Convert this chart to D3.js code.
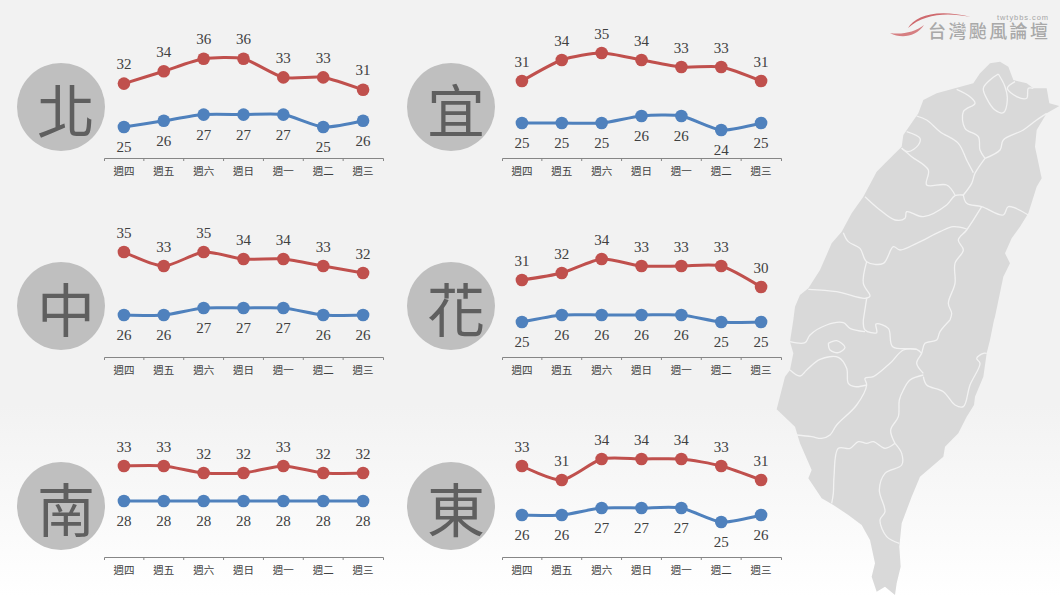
<!DOCTYPE html>
<html>
<head>
<meta charset="utf-8">
<script src="https://cdn.jsdelivr.net/npm/d3@7"></script>
<style>
  html, body { margin: 0; padding: 0; background: #fff; }
  svg { display: block; }
  .val { font-family: "Liberation Serif", serif; font-size: 15px; fill: #404040; text-anchor: middle; }
  .axis text { font-family: "Noto Sans CJK TC", sans-serif; font-size: 10.5px; fill: #404040; }
  .axis path, .axis line { stroke: #868686; stroke-width: 1; }
</style>
</head>
<body>
<svg id="chart" width="1060" height="596"></svg>
<script>
// Values
const days = ["週四", "週五", "週六", "週日", "週一", "週二", "週三"];
const northHigh = [32, 34, 36, 36, 33, 33, 31];
const northLow = [25, 26, 27, 27, 27, 25, 26];
const yilanHigh = [31, 34, 35, 34, 33, 33, 31];
const yilanLow = [25, 25, 25, 26, 26, 24, 25];
const centralHigh = [35, 33, 35, 34, 34, 33, 32];
const centralLow = [26, 26, 27, 27, 27, 26, 26];
const hualienHigh = [31, 32, 34, 33, 33, 33, 30];
const hualienLow = [25, 26, 26, 26, 26, 25, 25];
const southHigh = [33, 33, 32, 32, 33, 32, 32];
const southLow = [28, 28, 28, 28, 28, 28, 28];
const eastHigh = [33, 31, 34, 34, 34, 33, 31];
const eastLow = [26, 26, 27, 27, 27, 25, 26];

const RED = "#c0504d";
const BLUE = "#4f81bd";

const panels = [
  { name: "北", high: northHigh, low: northLow, left: 104, badgeX: 61, axisY: 158, perDeg: 6.2 },
  { name: "宜", high: yilanHigh, low: yilanLow, left: 502, badgeX: 451, axisY: 158, perDeg: 7 },
  { name: "中", high: centralHigh, low: centralLow, left: 104, badgeX: 61, axisY: 357, perDeg: 7 },
  { name: "花", high: hualienHigh, low: hualienLow, left: 502, badgeX: 451, axisY: 357, perDeg: 7 },
  { name: "南", high: southHigh, low: southLow, left: 104, badgeX: 61, axisY: 557, perDeg: 7 },
  { name: "東", high: eastHigh, low: eastLow, left: 502, badgeX: 451, axisY: 557, perDeg: 7 },
];

const svg = d3.select("#chart");
const defs = svg.append("defs");

const bg = defs.append("linearGradient").attr("id", "bg").attr("x2", 0).attr("y2", 1);
bg.append("stop").attr("offset", "68%").attr("stop-color", "#f2f2f2");
bg.append("stop").attr("offset", "100%").attr("stop-color", "#ffffff");
svg.append("rect").attr("width", 1060).attr("height", 596).attr("fill", "url(#bg)");

const crop3 = ([x, y]) => [770 + x / 3, 50 + y / 3];
const crop4 = ([x, y]) => [770 + x / 3, 320 + y / 3];

const outline = [
  ...[[660,40],[690,35],[715,50],[730,90],[770,100],[790,115],[830,115],[838,160],[868,168],[830,190],[800,240],[795,290],[815,385],[800,410],[775,490],[750,530],[725,565],[705,610],[720,640],[700,680],[675,800]].map(crop3),
  ...[[672,0],[660,60],[650,100],[640,170],[615,230],[612,255],[590,290],[565,340],[525,380],[520,410],[450,470],[425,530],[395,610],[388,680],[392,740],[380,790],[375,825],[345,800],[320,815],[305,770],[315,730],[300,660],[275,615],[235,585],[190,555],[155,535],[115,475],[125,450],[90,370],[75,320],[20,268],[45,170],[60,150],[70,100],[60,65],[70,0]].map(crop4),
  ...[[75,770],[90,735],[115,715],[150,660],[185,580],[215,545],[245,490],[280,440],[320,365],[345,340],[395,290],[400,255],[445,190],[460,150],[500,130],[555,115],[610,100],[630,70]].map(crop3),
];

const bordersTop = [
  [[560,118],[600,140],[615,160],[580,185],[585,235],[625,260],[630,300],[645,325]],
  [[645,325],[690,300],[700,270],[760,240],[800,210],[830,190]],
  [[440,198],[470,210],[510,245],[565,280],[590,330],[610,368]],
  [[645,325],[615,370],[605,400],[580,435]],
  [[685,72],[705,110],[712,150],[700,188],[675,180],[650,145],[640,115],[660,90],[685,72]],
  [[735,95],[712,115],[740,140],[770,145],[775,115],[790,115]],
  [[410,245],[450,265],[445,285],[415,305],[395,295]],
  [[395,295],[425,320],[475,360],[470,405],[530,405],[555,435]],
  [[285,440],[330,480],[375,510],[405,505],[410,485],[460,500],[530,465],[555,437],[580,435]],
  [[580,435],[590,460],[635,470],[700,495],[715,470],[775,495]],
  [[635,470],[590,540],[565,570],[580,600],[555,640],[555,700],[535,760],[545,790],[540,810]],
  [[590,537],[550,530],[510,545],[440,580],[390,600],[370,590],[340,640],[290,635],[270,595],[235,575],[220,548]],
  [[290,635],[280,700],[300,738],[285,745],[200,725],[115,718]],
  [[290,745],[280,810]],
];
const bordersBottom = [
  [[540,0],[510,35],[500,60],[465,70],[455,100],[440,130],[460,160]],
  [[280,0],[285,30],[320,38],[318,12],[355,25],[368,80],[440,88],[455,100]],
  [[60,65],[105,68],[120,45],[170,15],[220,8],[240,25],[285,35]],
  [[175,70],[200,62],[225,82],[205,98],[180,90],[175,70]],
  [[60,150],[90,168],[110,150],[150,118],[205,112],[230,145],[235,190],[255,200],[290,195]],
  [[440,88],[400,90],[360,130],[310,170],[285,175],[290,195],[260,255],[200,315],[180,345],[155,355],[125,350],[80,345]],
  [[460,165],[420,180],[400,210],[388,240],[385,290],[362,330],[375,370]],
  [[375,370],[345,385],[310,365],[290,370],[265,365],[240,385],[205,385],[192,470],[190,520],[185,550]],
  [[375,370],[395,400],[395,435],[345,460],[328,510],[345,575],[330,600],[350,650],[388,670]],
  [[460,170],[470,195],[520,215],[555,255],[580,260],[600,195],[630,130],[620,115],[640,100],[650,100]],
];

const map = svg.append("g");
map.append("path")
  .attr("d", d3.line()(outline) + "Z")
  .attr("fill", "#d9d9d9");
map.selectAll("path.border")
  .data([...bordersTop.map((b) => b.map(crop3)), ...bordersBottom.map((b) => b.map(crop4))])
  .enter()
  .append("path")
  .attr("class", "border")
  .attr("d", d3.line().curve(d3.curveCatmullRom))
  .attr("fill", "none")
  .attr("stroke", "#f2f2f2")
  .attr("stroke-width", 1.3)
  .attr("stroke-linejoin", "round");

// Logo
const logo = svg.append("g");
logo.append("path")
  .attr("d", "M890 33 C901 39 916 37 924 25 C915 32 902 35 890 33 Z")
  .attr("fill", "#d67f82");
logo.append("path")
  .attr("d", "M908 28 C915 16 936 8 971 17 C946 12 924 14 908 28 Z")
  .attr("fill", "#cf6a6e");
logo.append("text")
  .attr("x", 928).attr("y", 37.5)
  .attr("font-family", "Noto Sans CJK TC, sans-serif")
  .attr("font-size", 18)
  .attr("font-weight", 500)
  .attr("textLength", 120)
  .attr("fill", "#a9a9a9")
  .text("台灣颱風論壇");
logo.append("text")
  .attr("x", 997).attr("y", 20)
  .attr("font-family", "Liberation Sans, sans-serif")
  .attr("font-size", 7.5)
  .attr("textLength", 51)
  .attr("fill", "#a6a6a6")
  .text("twtybbs.com");

const smooth = d3.line().curve(d3.curveCardinal.tension(0.3));

panels.forEach((p) => {
  const x = d3.scaleBand().domain(days).range([p.left, p.left + 279]);
  const y = d3.scaleLinear().domain([20, 36]).range([p.axisY, p.axisY - 16 * p.perDeg]);
  const g = svg.append("g");

  // region badge
  g.append("circle")
    .attr("cx", p.badgeX)
    .attr("cy", p.axisY - 51)
    .attr("r", 44)
    .attr("fill", "#bfbfbf");
  g.append("text")
    .attr("x", p.badgeX + 5)
    .attr("y", p.axisY - 25)
    .attr("text-anchor", "middle")
    .attr("font-family", "Noto Sans CJK TC, sans-serif")
    .attr("font-size", 58)
    .attr("fill", "#5f5f5f")
    .text(p.name);

  // axis, ticks sit on the band edges
  const axis = g.append("g")
    .attr("class", "axis")
    .attr("transform", `translate(0,${p.axisY})`)
    .call(d3.axisBottom(x).tickSizeInner(0).tickSizeOuter(3).tickPadding(10));
  axis.selectAll(".edge")
    .data(days.slice(1))
    .enter()
    .append("line")
    .attr("class", "edge")
    .attr("x1", (d) => x(d)).attr("x2", (d) => x(d))
    .attr("y1", 0).attr("y2", 3);

  const cx = (i) => x(days[i]) + x.bandwidth() / 2;
  const series = [
    { values: p.high, color: RED, dy: -14.5 },
    { values: p.low, color: BLUE, dy: 25 },
  ];
  series.forEach((s) => {
    g.append("path")
      .attr("d", smooth(s.values.map((v, i) => [cx(i), y(v)])))
      .attr("fill", "none")
      .attr("stroke", s.color)
      .attr("stroke-width", 3);
    g.selectAll(null)
      .data(s.values)
      .enter()
      .append("circle")
      .attr("cx", (d, i) => cx(i))
      .attr("cy", (d) => y(d))
      .attr("r", 6.3)
      .attr("fill", s.color);
    g.selectAll(null)
      .data(s.values)
      .enter()
      .append("text")
      .attr("class", "val")
      .attr("x", (d, i) => cx(i))
      .attr("y", (d) => y(d) + s.dy)
      .text((d) => d);
  });
});
</script>
</body>
</html>
